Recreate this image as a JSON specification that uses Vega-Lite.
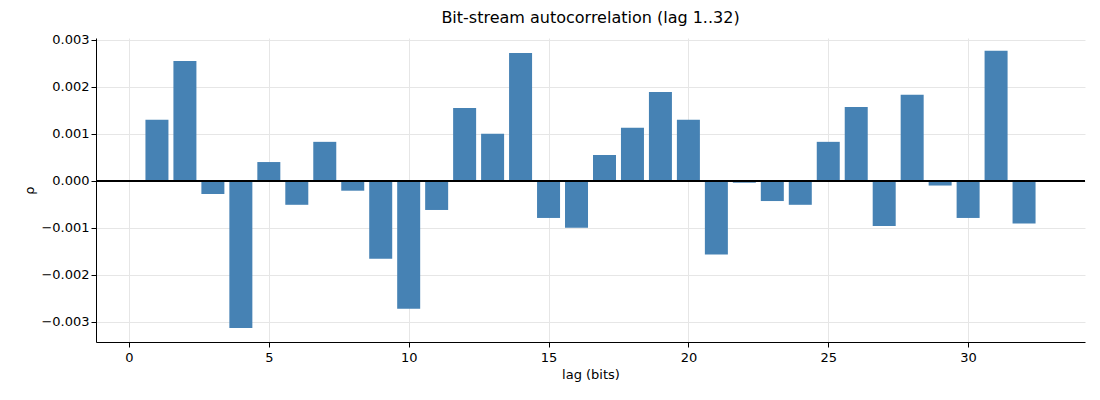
{
  "$schema": "https://vega.github.io/schema/vega-lite/v6.json",
  "width": 989,
  "height": 304,
  "autosize": "none",
  "padding": {"left": 96, "top": 38, "right": 15, "bottom": 58},
  "title": {"text": "Bit-stream autocorrelation (lag 1..32)", "font": "DejaVu Sans", "fontSize": 16, "fontWeight": "normal", "offset": 8},
  "config": {
    "view": {"stroke": null},
    "axis": {"labelFont": "DejaVu Sans", "titleFont": "DejaVu Sans", "labelFontSize": 13, "titleFontSize": 13, "titleFontWeight": "normal", "gridColor": "#e6e6e6", "domainColor": "black", "tickColor": "black", "labelColor": "black", "titleColor": "black"}
  },
  "data": {"values": [
    {"lag": 1, "rho": 0.0013}, {"lag": 2, "rho": 0.00255}, {"lag": 3, "rho": -0.00028}, {"lag": 4, "rho": -0.00313},
    {"lag": 5, "rho": 0.0004}, {"lag": 6, "rho": -0.00051}, {"lag": 7, "rho": 0.00083}, {"lag": 8, "rho": -0.00021},
    {"lag": 9, "rho": -0.00166}, {"lag": 10, "rho": -0.00272}, {"lag": 11, "rho": -0.00062}, {"lag": 12, "rho": 0.00155},
    {"lag": 13, "rho": 0.001}, {"lag": 14, "rho": 0.00272}, {"lag": 15, "rho": -0.00079}, {"lag": 16, "rho": -0.001},
    {"lag": 17, "rho": 0.00055}, {"lag": 18, "rho": 0.00113}, {"lag": 19, "rho": 0.00189}, {"lag": 20, "rho": 0.0013},
    {"lag": 21, "rho": -0.00157}, {"lag": 22, "rho": -0.00004}, {"lag": 23, "rho": -0.00043}, {"lag": 24, "rho": -0.00051},
    {"lag": 25, "rho": 0.00083}, {"lag": 26, "rho": 0.00157}, {"lag": 27, "rho": -0.00096}, {"lag": 28, "rho": 0.00183},
    {"lag": 29, "rho": -0.0001}, {"lag": 30, "rho": -0.00079}, {"lag": 31, "rho": 0.00277}, {"lag": 32, "rho": -0.00091}
  ]},
  "layer": [
    {
      "mark": {"type": "bar", "size": 23, "color": "#4682b4"},
      "encoding": {
        "x": {"field": "lag", "type": "quantitative", "title": "lag (bits)", "scale": {"domain": [-1, 34], "nice": false, "zero": false}, "axis": {"values": [0, 5, 10, 15, 20, 25, 30], "tickSize": 5, "labelPadding": 4}},
        "y": {"field": "rho", "type": "quantitative", "title": "ρ", "scale": {"domain": [-0.00343, 0.00304], "nice": false}, "axis": {"values": [-0.003, -0.002, -0.001, 0, 0.001, 0.002, 0.003], "format": ".3f", "tickSize": 5, "titleAngle": -90}}
      }
    },
    {
      "mark": {"type": "rule", "color": "black", "strokeWidth": 1},
      "encoding": {"y": {"datum": 0}}
    }
  ]
}
